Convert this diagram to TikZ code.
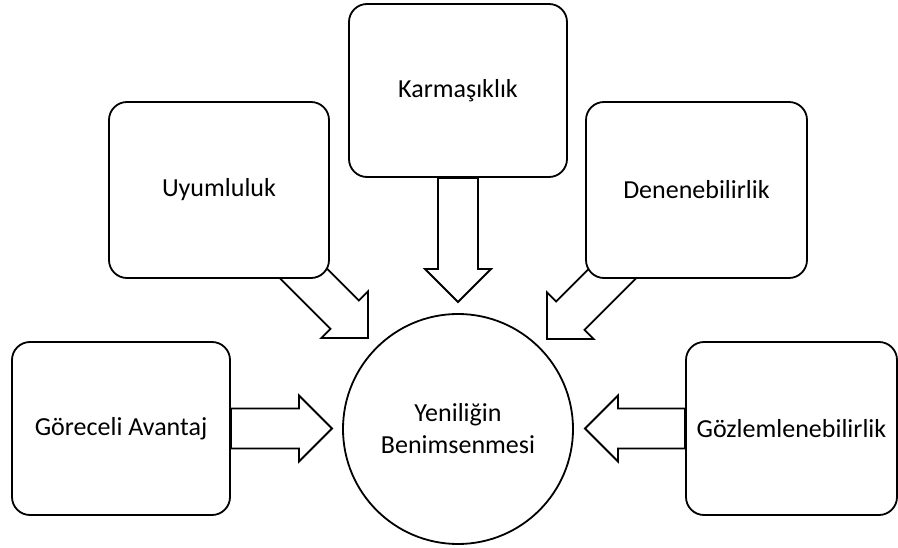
\documentclass[tikz,border=0pt]{standalone}
\usepackage{fontspec}
\setmainfont{Carlito}
\usetikzlibrary{calc,backgrounds}

\tikzset{
  labelfont/.style={font=\fontsize{26}{32}\selectfont},
  box/.style={draw, line width=1.8pt, rounded corners=18pt, fill=white,
    align=center, inner sep=0pt, labelfont},
  hub/.style={draw, circle, line width=1.8pt, fill=white, minimum size=230pt,
    align=center, inner sep=0pt, labelfont},
  blockarr/.style={draw, line width=1.8pt, fill=white, line join=miter},
}

% Block arrow from #2 to #3; #1 names its head-base point.
% Shaft half width 20pt, head half width 33pt, head length 33pt.
\newcommand\blockarrow[3]{%
  \coordinate (#1-b) at ($(#3)!33pt!(#2)$);
  \draw[blockarr]
    ($(#2)!20pt!90:(#3)$) -- ($(#1-b)!20pt!90:(#3)$) --
    ($(#1-b)!33pt!90:(#3)$) -- (#3) --
    ($(#1-b)!33pt!-90:(#3)$) -- ($(#1-b)!20pt!-90:(#3)$) --
    ($(#2)!20pt!-90:(#3)$) -- cycle;
}

\begin{document}
\begin{tikzpicture}[x=1pt, y=-1pt]
  \useasboundingbox (0,0) rectangle (898,548);

  % factors
  \node[box, minimum width=218pt, minimum height=173pt] (kar) at (458,90.5) {Karmaşıklık};
  \node[box, minimum width=220pt, minimum height=176pt] (uyu) at (219,190) {Uyumluluk};
  \node[box, minimum width=221pt, minimum height=176pt] (den) at (696.5,190) {Denenebilirlik};
  \node[box, minimum width=218pt, minimum height=173pt] (gor) at (121,428.5) {Göreceli Avantaj};
  \node[box, minimum width=211pt, minimum height=173pt] (goz) at (791.5,428.5) {Gözlemlenebilirlik};

  % outcome
  \node[hub] (hub) at (458,429) {Yeniliğin\\Benimsenmesi};

  % arrow ends
  \coordinate (tipK) at (458,302);
  \coordinate (tailU) at (290,260);
  \coordinate (tipU) at (368,338);
  \coordinate (tailD) at (626,260);
  \coordinate (tipD) at (547,339);
  \coordinate (tipG) at (332,428.5);
  \coordinate (tipZ) at (585,428.5);

  \begin{scope}[on background layer]
    \blockarrow{ak}{kar.south}{tipK}
    \blockarrow{au}{tailU}{tipU}
    \blockarrow{ad}{tailD}{tipD}
    \blockarrow{ag}{gor.east}{tipG}
    \blockarrow{az}{goz.west}{tipZ}
  \end{scope}
\end{tikzpicture}
\end{document}
